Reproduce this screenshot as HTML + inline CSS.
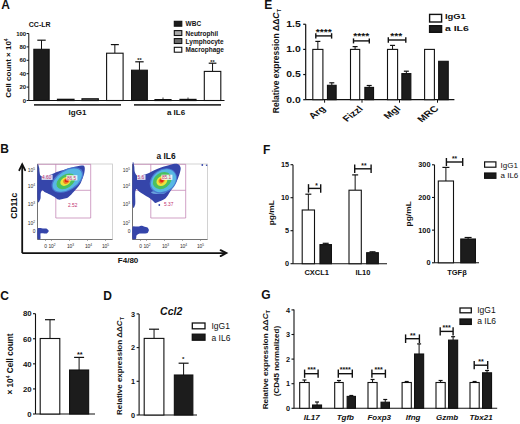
<!DOCTYPE html>
<html><head><meta charset="utf-8"><style>
html,body{margin:0;padding:0;background:#fff;}
svg{display:block;}
text{font-family:"Liberation Sans", sans-serif;}
</style></head><body>
<svg width="520" height="424" viewBox="0 0 520 424">
<defs><filter id="bl" x="-20%" y="-20%" width="140%" height="140%"><feGaussianBlur stdDeviation="0.7"/></filter></defs>
<rect width="520" height="424" fill="#fff"/>
<text x="1.3" y="9.2" font-size="12" font-weight="bold" text-anchor="start" fill="#111">A</text>
<text x="28.8" y="26.8" font-size="7" font-weight="bold" text-anchor="start" fill="#111">CC-LR</text>
<line x1="28.8" y1="33.5" x2="28.8" y2="100.5" stroke="#111" stroke-width="1"/>
<line x1="26.6" y1="100.5" x2="28.8" y2="100.5" stroke="#111" stroke-width="1"/>
<text x="26.2" y="102.6" font-size="6" font-weight="bold" text-anchor="end" fill="#111">0</text>
<line x1="26.6" y1="87.1" x2="28.8" y2="87.1" stroke="#111" stroke-width="1"/>
<text x="26.2" y="89.2" font-size="6" font-weight="bold" text-anchor="end" fill="#111">20</text>
<line x1="26.6" y1="73.7" x2="28.8" y2="73.7" stroke="#111" stroke-width="1"/>
<text x="26.2" y="75.8" font-size="6" font-weight="bold" text-anchor="end" fill="#111">40</text>
<line x1="26.6" y1="60.3" x2="28.8" y2="60.3" stroke="#111" stroke-width="1"/>
<text x="26.2" y="62.4" font-size="6" font-weight="bold" text-anchor="end" fill="#111">60</text>
<line x1="26.6" y1="46.9" x2="28.8" y2="46.9" stroke="#111" stroke-width="1"/>
<text x="26.2" y="49.0" font-size="6" font-weight="bold" text-anchor="end" fill="#111">80</text>
<line x1="26.6" y1="33.5" x2="28.8" y2="33.5" stroke="#111" stroke-width="1"/>
<text x="26.2" y="35.6" font-size="6" font-weight="bold" text-anchor="end" fill="#111">100</text>
<line x1="28.8" y1="100.5" x2="224.5" y2="100.5" stroke="#111" stroke-width="1"/>
<line x1="41.5" y1="40.2" x2="41.5" y2="49.3" stroke="#111" stroke-width="1"/>
<line x1="37.3" y1="40.2" x2="45.7" y2="40.2" stroke="#111" stroke-width="1.2"/>
<rect x="33.85" y="49.3" width="15.3" height="51.2" fill="#1c1c1c" stroke="#111" stroke-width="1.1"/>
<rect x="57.5" y="99.3" width="16.5" height="1.2" fill="#999" stroke="#111" stroke-width="1.2"/>
<rect x="82" y="98.8" width="16.3" height="1.7" fill="#666" stroke="#111" stroke-width="1.2"/>
<line x1="114.85" y1="44.6" x2="114.85" y2="53.2" stroke="#111" stroke-width="1"/>
<line x1="110.85" y1="44.6" x2="118.85" y2="44.6" stroke="#111" stroke-width="1.2"/>
<rect x="106.6" y="53.2" width="16.5" height="47.3" fill="#fff" stroke="#111" stroke-width="1.1"/>
<line x1="139.45" y1="61.8" x2="139.45" y2="70.2" stroke="#111" stroke-width="1"/>
<line x1="135.25" y1="61.8" x2="143.65" y2="61.8" stroke="#111" stroke-width="1.2"/>
<rect x="131.55" y="70.2" width="15.8" height="30.3" fill="#1c1c1c" stroke="#111" stroke-width="1.1"/>
<text x="139.4" y="62.2" font-size="5.5" font-weight="bold" text-anchor="middle" fill="#111">**</text>
<rect x="155" y="99.6" width="16" height="0.9" fill="#999" stroke="#111" stroke-width="1.2"/>
<line x1="163" y1="97.5" x2="163" y2="99.6" stroke="#111" stroke-width="0.8"/>
<rect x="180" y="99.4" width="16" height="1.1" fill="#666" stroke="#111" stroke-width="1.2"/>
<line x1="188" y1="97.5" x2="188" y2="99.4" stroke="#111" stroke-width="0.8"/>
<line x1="212.55" y1="63.2" x2="212.55" y2="71.4" stroke="#111" stroke-width="1"/>
<line x1="208.7" y1="63.2" x2="216.4" y2="63.2" stroke="#111" stroke-width="1.2"/>
<rect x="204.3" y="71.4" width="16.5" height="29.1" fill="#fff" stroke="#111" stroke-width="1.1"/>
<text x="212.4" y="64.0" font-size="5.5" font-weight="bold" text-anchor="middle" fill="#111">**</text>
<line x1="34" y1="104.8" x2="121" y2="104.8" stroke="#333" stroke-width="1.7"/>
<line x1="134" y1="104.8" x2="221" y2="104.8" stroke="#333" stroke-width="1.7"/>
<text x="77.5" y="114.5" font-size="8" font-weight="bold" text-anchor="middle" fill="#111">IgG1</text>
<text x="176" y="114.5" font-size="8" font-weight="bold" text-anchor="middle" fill="#111">a IL6</text>
<text x="10.6" y="68.1" font-size="8" font-weight="bold" text-anchor="middle" fill="#111" transform="rotate(-90 10.6 68.1)">Cell count &#215; 10<tspan font-size="5" dy="-3">4</tspan></text>
<rect x="174.3" y="21.3" width="7.5" height="4.9" fill="#1c1c1c" stroke="#111" stroke-width="1.1"/>
<text x="185.6" y="26.2" font-size="6.5" font-weight="bold" text-anchor="start" fill="#111">WBC</text>
<rect x="174.3" y="30.6" width="7.5" height="4.9" fill="#aaa" stroke="#111" stroke-width="1.1"/>
<text x="185.6" y="35.5" font-size="6.5" font-weight="bold" text-anchor="start" fill="#111">Neutrophil</text>
<rect x="174.3" y="38.6" width="7.5" height="4.9" fill="#6a6a6a" stroke="#111" stroke-width="1.1"/>
<text x="185.6" y="43.5" font-size="6.5" font-weight="bold" text-anchor="start" fill="#111">Lymphocyte</text>
<rect x="174.3" y="47.3" width="7.5" height="4.9" fill="#fff" stroke="#111" stroke-width="1.1"/>
<text x="185.6" y="52.2" font-size="6.5" font-weight="bold" text-anchor="start" fill="#111">Macrophage</text>
<text x="0.2" y="153.3" font-size="12" font-weight="bold" text-anchor="start" fill="#111">B</text>
<line x1="22.2" y1="253.1" x2="22.2" y2="164.5" stroke="#111" stroke-width="1.8"/>
<polyline points="19.3,170.2 22.2,164.3 25.1,170.2" fill="none" stroke="#111" stroke-width="1.8" stroke-linejoin="miter" stroke-linecap="round"/>
<line x1="22.2" y1="253.1" x2="225.5" y2="253.1" stroke="#111" stroke-width="1.8"/>
<polyline points="220.6,250.1 226.4,253.1 220.6,256.1" fill="none" stroke="#111" stroke-width="1.8" stroke-linejoin="miter" stroke-linecap="round"/>
<text x="17.3" y="205.7" font-size="8.5" font-weight="bold" text-anchor="middle" fill="#111" transform="rotate(-90 17.3 205.7)">CD11c</text>
<text x="128.1" y="263.2" font-size="8" font-weight="bold" text-anchor="middle" fill="#111">F4/80</text>
<text x="166.1" y="158.6" font-size="8.4" font-weight="bold" text-anchor="middle" fill="#111">a IL6</text>
<rect x="37.5" y="164" width="75.0" height="75.5" fill="none" stroke="#c8c8c8" stroke-width="0.8"/>
<line x1="37.5" y1="164" x2="37.5" y2="239.5" stroke="#666" stroke-width="0.9"/>
<line x1="37.5" y1="239.5" x2="112.5" y2="239.5" stroke="#666" stroke-width="0.9"/>
<path d="M37.5,164.3 H90.7 V190.3 H55.8 M55.8,164.3 V218 H90.7 V190.3 M37.5,190.3 H55.8" fill="none" stroke="#bd78ad" stroke-width="0.7"/>
<g filter="url(#bl)">
<path d="M37.60,166.50 C37.87,161.17 38.87,167.08 39.20,168.00 C39.53,168.92 39.33,170.70 39.60,172.00 C39.87,173.30 39.73,175.20 40.80,175.80 C41.87,176.40 44.32,175.80 46.00,175.60 C47.68,175.40 49.20,175.15 50.90,174.60 C52.60,174.05 54.43,172.98 56.20,172.30 C57.97,171.62 58.87,171.32 61.50,170.50 C64.13,169.68 68.65,168.23 72.00,167.40 C75.35,166.57 79.50,165.57 81.60,165.50 C83.70,165.43 84.15,165.75 84.60,167.00 C85.05,168.25 84.72,170.92 84.30,173.00 C83.88,175.08 82.85,177.57 82.10,179.50 C81.35,181.43 81.15,182.60 79.80,184.60 C78.45,186.60 75.92,189.40 74.00,191.50 C72.08,193.60 70.02,195.98 68.30,197.20 C66.58,198.42 65.33,198.40 63.70,198.80 C62.07,199.20 60.03,199.90 58.50,199.60 C56.97,199.30 55.92,197.85 54.50,197.00 C53.08,196.15 51.58,195.28 50.00,194.50 C48.42,193.72 46.27,193.02 45.00,192.30 C43.73,191.58 43.10,190.08 42.40,190.20 C41.70,190.32 41.13,191.53 40.80,193.00 C40.47,194.47 40.93,197.83 40.40,199.00 C39.87,200.17 38.07,205.42 37.60,200.00 C37.13,194.58 37.33,171.83 37.60,166.50 Z" fill="#3444aa"/>
<ellipse cx="67.4" cy="180" rx="17.6" ry="10.4" transform="rotate(-32 67.4 180)" fill="#4a78d0"/>
<ellipse cx="67.3" cy="180.2" rx="16.2" ry="9.2" transform="rotate(-32 67.3 180.2)" fill="#58b8e4"/>
<ellipse cx="65.9" cy="181.3" rx="10.4" ry="6.6" transform="rotate(-32 65.9 181.3)" fill="#4cc060"/>
<ellipse cx="65.5" cy="181.4" rx="5.6" ry="4.0" transform="rotate(-32 65.5 181.4)" fill="#ece43c"/>
<ellipse cx="66.4" cy="181" rx="3.3" ry="2.6" transform="rotate(-32 66.4 181)" fill="#f08024"/>
<ellipse cx="66.6" cy="180.7" rx="1.9" ry="1.6" transform="rotate(0 66.6 180.7)" fill="#e02818"/>
<path d="M37.70,228.50 C38.28,227.48 42.59,228.58 43.50,228.60 C44.41,228.62 46.27,228.46 46.80,228.70 C47.33,228.94 48.80,230.53 48.80,231.00 C48.80,231.47 47.43,233.18 46.80,233.40 C46.17,233.62 43.13,233.18 42.50,233.20 C41.87,233.22 40.70,233.04 40.50,233.60 C40.30,234.16 40.78,238.28 40.50,238.80 C40.22,239.32 37.98,239.83 37.70,238.80 C37.42,237.77 37.12,229.52 37.70,228.50 Z" fill="#3444aa"/>
</g>
<rect x="41.6" y="174.7" width="11.0" height="5.2" fill="#fff" opacity="0.85"/>
<text x="42.1" y="179" font-size="4.8" font-weight="normal" text-anchor="start" fill="#c03070">4.60</text>
<rect x="66.4" y="175.2" width="11.0" height="5.2" fill="#fff" opacity="0.85"/>
<text x="66.9" y="179.5" font-size="4.8" font-weight="normal" text-anchor="start" fill="#c03070">86.5</text>
<rect x="67.5" y="202.4" width="11.0" height="5.2" fill="#fff" opacity="0.85"/>
<text x="68.0" y="206.7" font-size="4.8" font-weight="normal" text-anchor="start" fill="#c03070">2.52</text>
<text x="35.0" y="171.5" font-size="4.9" font-weight="normal" text-anchor="end" fill="#2a2a2a">10<tspan font-size="3.2" dy="-2">5</tspan></text>
<text x="35.0" y="187.5" font-size="4.9" font-weight="normal" text-anchor="end" fill="#2a2a2a">10<tspan font-size="3.2" dy="-2">4</tspan></text>
<text x="35.0" y="205.5" font-size="4.9" font-weight="normal" text-anchor="end" fill="#2a2a2a">10<tspan font-size="3.2" dy="-2">3</tspan></text>
<text x="35.0" y="224.5" font-size="4.9" font-weight="normal" text-anchor="end" fill="#2a2a2a">10<tspan font-size="3.2" dy="-2">2</tspan></text>
<text x="35.5" y="232.5" font-size="4.9" font-weight="normal" text-anchor="end" fill="#2a2a2a">0</text>
<text x="45.5" y="248" font-size="4.9" font-weight="normal" text-anchor="middle" fill="#2a2a2a">0</text>
<text x="52.0" y="248" font-size="4.9" font-weight="normal" text-anchor="middle" fill="#2a2a2a">10<tspan font-size="3.2" dy="-2">2</tspan></text>
<text x="70.5" y="248" font-size="4.9" font-weight="normal" text-anchor="middle" fill="#2a2a2a">10<tspan font-size="3.2" dy="-2">3</tspan></text>
<text x="88.5" y="248" font-size="4.9" font-weight="normal" text-anchor="middle" fill="#2a2a2a">10<tspan font-size="3.2" dy="-2">4</tspan></text>
<text x="105.5" y="248" font-size="4.9" font-weight="normal" text-anchor="middle" fill="#2a2a2a">10<tspan font-size="3.2" dy="-2">5</tspan></text>
<line x1="45.5" y1="239.5" x2="45.5" y2="241.0" stroke="#777" stroke-width="0.6"/>
<line x1="51.5" y1="239.5" x2="51.5" y2="241.0" stroke="#777" stroke-width="0.6"/>
<line x1="69.5" y1="239.5" x2="69.5" y2="241.0" stroke="#777" stroke-width="0.6"/>
<line x1="87.5" y1="239.5" x2="87.5" y2="241.0" stroke="#777" stroke-width="0.6"/>
<line x1="105.5" y1="239.5" x2="105.5" y2="241.0" stroke="#777" stroke-width="0.6"/>
<rect x="132.5" y="164" width="75.0" height="75.5" fill="none" stroke="#c8c8c8" stroke-width="0.8"/>
<line x1="132.5" y1="164" x2="132.5" y2="239.5" stroke="#666" stroke-width="0.9"/>
<line x1="132.5" y1="239.5" x2="207.5" y2="239.5" stroke="#666" stroke-width="0.9"/>
<path d="M132.5,164.3 H185.7 V190.3 H150.8 M150.8,164.3 V218 H185.7 V190.3 M132.5,190.3 H150.8" fill="none" stroke="#bd78ad" stroke-width="0.7"/>
<g filter="url(#bl)">
<path d="M132.60,164.50 C132.87,158.07 133.83,164.75 134.20,166.00 C134.57,167.25 134.25,170.33 134.80,172.00 C135.35,173.67 136.47,175.42 137.50,176.00 C138.53,176.58 139.80,175.73 141.00,175.50 C142.20,175.27 143.20,175.12 144.70,174.60 C146.20,174.08 147.73,173.42 150.00,172.40 C152.27,171.38 155.03,169.75 158.30,168.50 C161.57,167.25 166.40,165.65 169.60,164.90 C172.80,164.15 175.67,163.57 177.50,164.00 C179.33,164.43 180.22,166.00 180.60,167.50 C180.98,169.00 180.35,170.92 179.80,173.00 C179.25,175.08 178.13,178.07 177.30,180.00 C176.47,181.93 175.98,182.68 174.80,184.60 C173.62,186.52 171.73,189.22 170.20,191.50 C168.67,193.78 167.33,196.67 165.60,198.30 C163.87,199.93 161.53,200.53 159.80,201.30 C158.07,202.07 156.35,202.98 155.20,202.90 C154.05,202.82 154.05,201.73 152.90,200.80 C151.75,199.87 149.83,198.37 148.30,197.30 C146.77,196.23 145.23,195.37 143.70,194.40 C142.17,193.43 140.30,192.40 139.10,191.50 C137.90,190.60 137.15,188.75 136.50,189.00 C135.85,189.25 135.42,190.45 135.20,193.00 C134.98,195.55 135.63,202.37 135.20,204.30 C134.77,206.23 133.03,211.23 132.60,204.60 C132.17,197.97 132.33,170.93 132.60,164.50 Z" fill="#3444aa"/>
<ellipse cx="158.5" cy="192.5" rx="7.5" ry="1.6" transform="rotate(0 158.5 192.5)" fill="#6aa0dc"/>
<ellipse cx="163.4" cy="181" rx="14.6" ry="11.6" transform="rotate(-35 163.4 181)" fill="#4a78d0"/>
<ellipse cx="163.5" cy="180.8" rx="13.4" ry="10.4" transform="rotate(-35 163.5 180.8)" fill="#58b8e4"/>
<ellipse cx="162.2" cy="180.6" rx="10" ry="7.8" transform="rotate(-35 162.2 180.6)" fill="#4cc060"/>
<ellipse cx="161.9" cy="181" rx="5.8" ry="4.7" transform="rotate(-35 161.9 181)" fill="#ece43c"/>
<ellipse cx="161.6" cy="180.7" rx="3.2" ry="2.6" transform="rotate(-35 161.6 180.7)" fill="#f08024"/>
<ellipse cx="161.7" cy="180.6" rx="1.8" ry="1.6" transform="rotate(0 161.7 180.6)" fill="#e02818"/>
<path d="M132.50,227.00 C132.85,225.78 135.35,226.66 136.00,226.60 C136.65,226.54 138.45,226.48 139.00,226.40 C139.55,226.32 141.00,225.79 141.50,225.80 C142.00,225.81 143.40,226.33 144.00,226.50 C144.60,226.67 147.01,227.15 147.50,227.50 C147.99,227.85 148.90,229.45 148.90,230.00 C148.90,230.55 148.09,232.64 147.50,233.00 C146.91,233.36 143.85,233.52 143.00,233.60 C142.15,233.68 139.65,233.61 139.00,233.80 C138.35,233.99 136.80,235.00 136.50,235.50 C136.20,236.00 136.40,238.47 136.00,238.80 C135.60,239.13 132.85,239.98 132.50,238.80 C132.15,237.62 132.15,228.22 132.50,227.00 Z" fill="#3444aa"/>
</g>
<rect x="137.0" y="174.7" width="8.5" height="5.2" fill="#fff" opacity="0.85"/>
<text x="137.5" y="179" font-size="4.8" font-weight="normal" text-anchor="start" fill="#c03070">5.6</text>
<rect x="161.4" y="174.7" width="11.0" height="5.2" fill="#fff" opacity="0.85"/>
<text x="161.9" y="179" font-size="4.8" font-weight="normal" text-anchor="start" fill="#c03070">85.1</text>
<rect x="163.5" y="202.0" width="11.0" height="5.2" fill="#fff" opacity="0.85"/>
<text x="164.0" y="206.3" font-size="4.8" font-weight="normal" text-anchor="start" fill="#c03070">5.37</text>
<circle cx="159.3" cy="205" r="0.9" fill="#3444aa"/>
<circle cx="202.3" cy="165" r="0.9" fill="#3444aa"/>
<circle cx="206.6" cy="165.2" r="0.8" fill="#3444aa"/>
<text x="130.0" y="171.5" font-size="4.9" font-weight="normal" text-anchor="end" fill="#2a2a2a">10<tspan font-size="3.2" dy="-2">5</tspan></text>
<text x="130.0" y="187.5" font-size="4.9" font-weight="normal" text-anchor="end" fill="#2a2a2a">10<tspan font-size="3.2" dy="-2">4</tspan></text>
<text x="130.0" y="205.5" font-size="4.9" font-weight="normal" text-anchor="end" fill="#2a2a2a">10<tspan font-size="3.2" dy="-2">3</tspan></text>
<text x="130.0" y="224.5" font-size="4.9" font-weight="normal" text-anchor="end" fill="#2a2a2a">10<tspan font-size="3.2" dy="-2">2</tspan></text>
<text x="130.5" y="232.5" font-size="4.9" font-weight="normal" text-anchor="end" fill="#2a2a2a">0</text>
<text x="140.5" y="248" font-size="4.9" font-weight="normal" text-anchor="middle" fill="#2a2a2a">0</text>
<text x="147.0" y="248" font-size="4.9" font-weight="normal" text-anchor="middle" fill="#2a2a2a">10<tspan font-size="3.2" dy="-2">2</tspan></text>
<text x="165.5" y="248" font-size="4.9" font-weight="normal" text-anchor="middle" fill="#2a2a2a">10<tspan font-size="3.2" dy="-2">3</tspan></text>
<text x="183.5" y="248" font-size="4.9" font-weight="normal" text-anchor="middle" fill="#2a2a2a">10<tspan font-size="3.2" dy="-2">4</tspan></text>
<text x="200.5" y="248" font-size="4.9" font-weight="normal" text-anchor="middle" fill="#2a2a2a">10<tspan font-size="3.2" dy="-2">5</tspan></text>
<line x1="140.5" y1="239.5" x2="140.5" y2="241.0" stroke="#777" stroke-width="0.6"/>
<line x1="146.5" y1="239.5" x2="146.5" y2="241.0" stroke="#777" stroke-width="0.6"/>
<line x1="164.5" y1="239.5" x2="164.5" y2="241.0" stroke="#777" stroke-width="0.6"/>
<line x1="182.5" y1="239.5" x2="182.5" y2="241.0" stroke="#777" stroke-width="0.6"/>
<line x1="200.5" y1="239.5" x2="200.5" y2="241.0" stroke="#777" stroke-width="0.6"/>
<text x="0.3" y="300.2" font-size="12" font-weight="bold" text-anchor="start" fill="#111">C</text>
<line x1="35.5" y1="313.7" x2="35.5" y2="414" stroke="#111" stroke-width="1.1"/>
<line x1="33.0" y1="414.0" x2="35.5" y2="414.0" stroke="#111" stroke-width="1.1"/>
<text x="31.7" y="416.8" font-size="7.8" font-weight="bold" text-anchor="end" fill="#111">0</text>
<line x1="33.0" y1="388.92" x2="35.5" y2="388.92" stroke="#111" stroke-width="1.1"/>
<text x="31.7" y="391.72" font-size="7.8" font-weight="bold" text-anchor="end" fill="#111">20</text>
<line x1="33.0" y1="363.84" x2="35.5" y2="363.84" stroke="#111" stroke-width="1.1"/>
<text x="31.7" y="366.64" font-size="7.8" font-weight="bold" text-anchor="end" fill="#111">40</text>
<line x1="33.0" y1="338.76" x2="35.5" y2="338.76" stroke="#111" stroke-width="1.1"/>
<text x="31.7" y="341.56" font-size="7.8" font-weight="bold" text-anchor="end" fill="#111">60</text>
<line x1="33.0" y1="313.68" x2="35.5" y2="313.68" stroke="#111" stroke-width="1.1"/>
<text x="31.7" y="316.48" font-size="7.8" font-weight="bold" text-anchor="end" fill="#111">80</text>
<line x1="35.5" y1="414" x2="95" y2="414" stroke="#111" stroke-width="1.1"/>
<line x1="50.0" y1="319.7" x2="50.0" y2="338.5" stroke="#111" stroke-width="1"/>
<line x1="45.0" y1="319.7" x2="55.0" y2="319.7" stroke="#111" stroke-width="1.2"/>
<rect x="40.2" y="338.5" width="19.6" height="75.5" fill="#fff" stroke="#111" stroke-width="1.1"/>
<line x1="79.1" y1="357.4" x2="79.1" y2="370" stroke="#111" stroke-width="1"/>
<line x1="74.1" y1="357.4" x2="84.1" y2="357.4" stroke="#111" stroke-width="1.2"/>
<rect x="69.55" y="370" width="19.1" height="44" fill="#1c1c1c" stroke="#111" stroke-width="1.1"/>
<text x="79.8" y="357.4" font-size="7.3" font-weight="bold" text-anchor="middle" fill="#111">**</text>
<text x="12.6" y="364" font-size="8.25" font-weight="bold" text-anchor="middle" fill="#111" transform="rotate(-90 12.6 364)">&#215; 10<tspan font-size="5" dy="-3">4</tspan><tspan dy="3"> Cell count</tspan></text>
<text x="103.2" y="300" font-size="12" font-weight="bold" text-anchor="start" fill="#111">D</text>
<line x1="139.1" y1="314" x2="139.1" y2="415" stroke="#111" stroke-width="1.1"/>
<line x1="136.6" y1="415.0" x2="139.1" y2="415.0" stroke="#111" stroke-width="1.1"/>
<text x="135.1" y="417.6" font-size="7.3" font-weight="bold" text-anchor="end" fill="#111">0</text>
<line x1="136.6" y1="381.3" x2="139.1" y2="381.3" stroke="#111" stroke-width="1.1"/>
<text x="135.1" y="383.9" font-size="7.3" font-weight="bold" text-anchor="end" fill="#111">1</text>
<line x1="136.6" y1="347.6" x2="139.1" y2="347.6" stroke="#111" stroke-width="1.1"/>
<text x="135.1" y="350.2" font-size="7.3" font-weight="bold" text-anchor="end" fill="#111">2</text>
<line x1="136.6" y1="313.9" x2="139.1" y2="313.9" stroke="#111" stroke-width="1.1"/>
<text x="135.1" y="316.5" font-size="7.3" font-weight="bold" text-anchor="end" fill="#111">3</text>
<line x1="139.1" y1="415" x2="197" y2="415" stroke="#111" stroke-width="1.1"/>
<line x1="154.05" y1="329.2" x2="154.05" y2="338.4" stroke="#111" stroke-width="1"/>
<line x1="149.05" y1="329.2" x2="159.05" y2="329.2" stroke="#111" stroke-width="1.2"/>
<rect x="144.2" y="338.4" width="19.7" height="76.6" fill="#fff" stroke="#111" stroke-width="1.1"/>
<line x1="183.6" y1="363.2" x2="183.6" y2="375" stroke="#111" stroke-width="1"/>
<line x1="178.6" y1="363.2" x2="188.6" y2="363.2" stroke="#111" stroke-width="1.2"/>
<rect x="174.35" y="375" width="18.5" height="40" fill="#1c1c1c" stroke="#111" stroke-width="1.1"/>
<text x="183.1" y="361.0" font-size="6.2" font-weight="bold" text-anchor="middle" fill="#111">*</text>
<text x="171.2" y="314.8" font-size="10.5" font-weight="bold" text-anchor="middle" fill="#111" font-style="italic">Ccl2</text>
<rect x="192.3" y="323" width="12.7" height="5.8" fill="#fff" stroke="#111" stroke-width="1.3"/>
<rect x="192.3" y="334.2" width="12.7" height="6.0" fill="#1c1c1c" stroke="#111" stroke-width="1.3"/>
<text x="211.5" y="329.3" font-size="8.5" font-weight="normal" text-anchor="start" fill="#111">IgG1</text>
<text x="211.5" y="340.6" font-size="8.5" font-weight="normal" text-anchor="start" fill="#111">a IL6</text>
<text x="121.5" y="366" font-size="8" font-weight="bold" text-anchor="middle" fill="#111" transform="rotate(-90 121.5 366)">Relative expression &#916;&#916;<tspan font-style="italic">C</tspan><tspan font-size="5.5" dy="2">T</tspan></text>
<text x="264.2" y="8.6" font-size="12" font-weight="bold" text-anchor="start" fill="#111">E</text>
<line x1="305.7" y1="24.3" x2="305.7" y2="99.7" stroke="#111" stroke-width="1.2"/>
<line x1="303.2" y1="99.7" x2="305.7" y2="99.7" stroke="#111" stroke-width="1.2"/>
<text transform="translate(300.7 102.6) scale(1.27 1)" font-size="8.2" font-weight="bold" text-anchor="end" fill="#111">0.0</text>
<line x1="303.2" y1="74.55" x2="305.7" y2="74.55" stroke="#111" stroke-width="1.2"/>
<text transform="translate(300.7 77.45) scale(1.27 1)" font-size="8.2" font-weight="bold" text-anchor="end" fill="#111">0.5</text>
<line x1="303.2" y1="49.4" x2="305.7" y2="49.4" stroke="#111" stroke-width="1.2"/>
<text transform="translate(300.7 52.3) scale(1.27 1)" font-size="8.2" font-weight="bold" text-anchor="end" fill="#111">1.0</text>
<line x1="303.2" y1="24.25" x2="305.7" y2="24.25" stroke="#111" stroke-width="1.2"/>
<text transform="translate(300.7 27.15) scale(1.27 1)" font-size="8.2" font-weight="bold" text-anchor="end" fill="#111">1.5</text>
<line x1="305.7" y1="99.7" x2="454.4" y2="99.7" stroke="#111" stroke-width="1.2"/>
<line x1="317.85" y1="41.4" x2="317.85" y2="49.4" stroke="#111" stroke-width="1"/>
<line x1="315.35" y1="41.4" x2="320.35" y2="41.4" stroke="#111" stroke-width="1.2"/>
<rect x="312.8" y="49.4" width="10.1" height="50.3" fill="#fff" stroke="#111" stroke-width="1.1"/>
<line x1="331.8" y1="82.8" x2="331.8" y2="85.3" stroke="#111" stroke-width="1"/>
<line x1="329.3" y1="82.8" x2="334.3" y2="82.8" stroke="#111" stroke-width="1.2"/>
<rect x="327.45" y="85.3" width="8.7" height="14.4" fill="#1c1c1c" stroke="#111" stroke-width="1.1"/>
<line x1="355.1" y1="46.6" x2="355.1" y2="49.4" stroke="#111" stroke-width="1"/>
<line x1="352.6" y1="46.6" x2="357.6" y2="46.6" stroke="#111" stroke-width="1.2"/>
<rect x="350.5" y="49.4" width="9.2" height="50.3" fill="#fff" stroke="#111" stroke-width="1.1"/>
<line x1="369.2" y1="85.5" x2="369.2" y2="87.4" stroke="#111" stroke-width="1"/>
<line x1="366.7" y1="85.5" x2="371.7" y2="85.5" stroke="#111" stroke-width="1.2"/>
<rect x="364.85" y="87.4" width="8.7" height="12.3" fill="#1c1c1c" stroke="#111" stroke-width="1.1"/>
<line x1="392.55" y1="45.4" x2="392.55" y2="49.4" stroke="#111" stroke-width="1"/>
<line x1="390.05" y1="45.4" x2="395.05" y2="45.4" stroke="#111" stroke-width="1.2"/>
<rect x="387.5" y="49.4" width="10.1" height="50.3" fill="#fff" stroke="#111" stroke-width="1.1"/>
<line x1="406.35" y1="71.2" x2="406.35" y2="73.6" stroke="#111" stroke-width="1"/>
<line x1="403.85" y1="71.2" x2="408.85" y2="71.2" stroke="#111" stroke-width="1.2"/>
<rect x="401.85" y="73.6" width="9" height="26.1" fill="#1c1c1c" stroke="#111" stroke-width="1.1"/>
<rect x="424.6" y="49.4" width="9.8" height="50.3" fill="#fff" stroke="#111" stroke-width="1.1"/>
<rect x="438.65" y="61.3" width="9.6" height="38.4" fill="#1c1c1c" stroke="#111" stroke-width="1.1"/>
<line x1="315.8" y1="35.9" x2="331.6" y2="35.9" stroke="#111" stroke-width="1.4"/>
<line x1="315.8" y1="33.2" x2="315.8" y2="38.6" stroke="#111" stroke-width="1.4"/>
<line x1="331.6" y1="33.2" x2="331.6" y2="38.6" stroke="#111" stroke-width="1.4"/>
<text transform="translate(323.7 35.3) scale(1.2 1)" font-size="8.6" font-weight="bold" text-anchor="middle" fill="#111">****</text>
<line x1="353.5" y1="40.9" x2="369.3" y2="40.9" stroke="#111" stroke-width="1.4"/>
<line x1="353.5" y1="38.4" x2="353.5" y2="43.4" stroke="#111" stroke-width="1.4"/>
<line x1="369.3" y1="38.4" x2="369.3" y2="43.4" stroke="#111" stroke-width="1.4"/>
<text transform="translate(361.3 38.5) scale(1.2 1)" font-size="8.6" font-weight="bold" text-anchor="middle" fill="#111">****</text>
<line x1="388.3" y1="40.0" x2="405.8" y2="40.0" stroke="#111" stroke-width="1.4"/>
<line x1="388.3" y1="37.3" x2="388.3" y2="42.7" stroke="#111" stroke-width="1.4"/>
<line x1="405.8" y1="37.3" x2="405.8" y2="42.7" stroke="#111" stroke-width="1.4"/>
<text transform="translate(396.2 38.9) scale(1.2 1)" font-size="8.6" font-weight="bold" text-anchor="middle" fill="#111">***</text>
<line x1="324.6" y1="99.7" x2="324.6" y2="102.7" stroke="#111" stroke-width="1"/>
<text transform="translate(326.3 109.3) scale(1.3 1) rotate(-45)" font-size="8.4" font-weight="bold" text-anchor="end" fill="#111">Arg</text>
<line x1="362" y1="99.7" x2="362" y2="102.7" stroke="#111" stroke-width="1"/>
<text transform="translate(363.7 109.3) scale(1.3 1) rotate(-45)" font-size="8.4" font-weight="bold" text-anchor="end" fill="#111">Fizzl</text>
<line x1="399.5" y1="99.7" x2="399.5" y2="102.7" stroke="#111" stroke-width="1"/>
<text transform="translate(401.2 109.3) scale(1.3 1) rotate(-45)" font-size="8.4" font-weight="bold" text-anchor="end" fill="#111">Mgl</text>
<line x1="437.5" y1="99.7" x2="437.5" y2="102.7" stroke="#111" stroke-width="1"/>
<text transform="translate(439.2 109.3) scale(1.3 1) rotate(-45)" font-size="8.4" font-weight="bold" text-anchor="end" fill="#111">MRC</text>
<rect x="429.6" y="14.4" width="12.0" height="7.6" fill="#fff" stroke="#111" stroke-width="1.4"/>
<rect x="429.6" y="25.7" width="12.0" height="6.6" fill="#1c1c1c" stroke="#111" stroke-width="1.4"/>
<text transform="translate(444.9 19.3) scale(1.24 1)" font-size="7.6" font-weight="bold" text-anchor="start" fill="#111">IgG1</text>
<text transform="translate(444.9 31.3) scale(1.38 1)" font-size="7.6" font-weight="bold" text-anchor="start" fill="#111">a IL6</text>
<text transform="translate(278.5 61) rotate(-90)" font-size="8.5" font-weight="bold" text-anchor="middle" fill="#111">Relative expression &#916;&#916;<tspan font-style="italic">C</tspan><tspan font-size="6" dy="2">T</tspan></text>
<text x="263" y="154.2" font-size="12" font-weight="bold" text-anchor="start" fill="#111">F</text>
<line x1="293" y1="164.8" x2="293" y2="263.7" stroke="#111" stroke-width="1.1"/>
<line x1="290.5" y1="263.7" x2="293" y2="263.7" stroke="#111" stroke-width="1.1"/>
<text x="289" y="266.3" font-size="7.3" font-weight="bold" text-anchor="end" fill="#111">0</text>
<line x1="290.5" y1="230.7" x2="293" y2="230.7" stroke="#111" stroke-width="1.1"/>
<text x="289" y="233.3" font-size="7.3" font-weight="bold" text-anchor="end" fill="#111">5</text>
<line x1="290.5" y1="197.7" x2="293" y2="197.7" stroke="#111" stroke-width="1.1"/>
<text x="289" y="200.3" font-size="7.3" font-weight="bold" text-anchor="end" fill="#111">10</text>
<line x1="290.5" y1="164.7" x2="293" y2="164.7" stroke="#111" stroke-width="1.1"/>
<text x="289" y="167.3" font-size="7.3" font-weight="bold" text-anchor="end" fill="#111">15</text>
<line x1="293" y1="263.7" x2="387" y2="263.7" stroke="#111" stroke-width="1.1"/>
<line x1="308.35" y1="194.2" x2="308.35" y2="210" stroke="#111" stroke-width="1"/>
<line x1="305.35" y1="194.2" x2="311.35" y2="194.2" stroke="#111" stroke-width="1.2"/>
<rect x="302.2" y="210" width="12.3" height="53.7" fill="#fff" stroke="#111" stroke-width="1.1"/>
<line x1="325.7" y1="243.3" x2="325.7" y2="244.6" stroke="#111" stroke-width="1"/>
<line x1="322.7" y1="243.3" x2="328.7" y2="243.3" stroke="#111" stroke-width="1.2"/>
<rect x="319.95" y="244.6" width="11.5" height="19.1" fill="#1c1c1c" stroke="#111" stroke-width="1.1"/>
<line x1="355.15" y1="174.9" x2="355.15" y2="190.2" stroke="#111" stroke-width="1"/>
<line x1="352.15" y1="174.9" x2="358.15" y2="174.9" stroke="#111" stroke-width="1.2"/>
<rect x="349.0" y="190.2" width="12.3" height="73.5" fill="#fff" stroke="#111" stroke-width="1.1"/>
<line x1="372.5" y1="251.8" x2="372.5" y2="252.7" stroke="#111" stroke-width="1"/>
<line x1="369.5" y1="251.8" x2="375.5" y2="251.8" stroke="#111" stroke-width="1.2"/>
<rect x="366.65" y="252.7" width="11.7" height="11.0" fill="#1c1c1c" stroke="#111" stroke-width="1.1"/>
<line x1="308.5" y1="188.4" x2="320.7" y2="188.4" stroke="#111" stroke-width="1.4"/>
<line x1="308.5" y1="184.15" x2="308.5" y2="192.65" stroke="#111" stroke-width="1.4"/>
<line x1="320.7" y1="184.15" x2="320.7" y2="192.65" stroke="#111" stroke-width="1.4"/>
<text transform="translate(316.4 188.2) scale(1.0 1)" font-size="6.5" font-weight="bold" text-anchor="middle" fill="#111">*</text>
<line x1="354.7" y1="168.8" x2="371.1" y2="168.8" stroke="#111" stroke-width="1.4"/>
<line x1="354.7" y1="164.55" x2="354.7" y2="173.05" stroke="#111" stroke-width="1.4"/>
<line x1="371.1" y1="164.55" x2="371.1" y2="173.05" stroke="#111" stroke-width="1.4"/>
<text transform="translate(363.9 168.4) scale(1.0 1)" font-size="6.5" font-weight="bold" text-anchor="middle" fill="#111">**</text>
<text x="316.7" y="275.3" font-size="7.5" font-weight="bold" text-anchor="middle" fill="#111">CXCL1</text>
<text x="362.9" y="275.3" font-size="7.5" font-weight="bold" text-anchor="middle" fill="#111">IL10</text>
<text transform="translate(273.6 212.7) scale(0.8 1) rotate(-90)" font-size="8.4" font-weight="bold" text-anchor="middle" fill="#111">pg/mL</text>
<line x1="434.5" y1="164.8" x2="434.5" y2="262.8" stroke="#111" stroke-width="1.1"/>
<line x1="432.0" y1="262.8" x2="434.5" y2="262.8" stroke="#111" stroke-width="1.1"/>
<text x="430.5" y="265.4" font-size="7.3" font-weight="bold" text-anchor="end" fill="#111">0</text>
<line x1="432.0" y1="230.13" x2="434.5" y2="230.13" stroke="#111" stroke-width="1.1"/>
<text x="430.5" y="232.73" font-size="7.3" font-weight="bold" text-anchor="end" fill="#111">100</text>
<line x1="432.0" y1="197.46" x2="434.5" y2="197.46" stroke="#111" stroke-width="1.1"/>
<text x="430.5" y="200.06" font-size="7.3" font-weight="bold" text-anchor="end" fill="#111">200</text>
<line x1="432.0" y1="164.79" x2="434.5" y2="164.79" stroke="#111" stroke-width="1.1"/>
<text x="430.5" y="167.39" font-size="7.3" font-weight="bold" text-anchor="end" fill="#111">300</text>
<line x1="434.5" y1="262.8" x2="479" y2="262.8" stroke="#111" stroke-width="1.1"/>
<line x1="445.9" y1="167.4" x2="445.9" y2="181" stroke="#111" stroke-width="1"/>
<line x1="442.4" y1="167.4" x2="449.4" y2="167.4" stroke="#111" stroke-width="1.2"/>
<rect x="438.3" y="181" width="15.2" height="81.8" fill="#fff" stroke="#111" stroke-width="1.1"/>
<line x1="468.1" y1="237.5" x2="468.1" y2="239" stroke="#111" stroke-width="1"/>
<line x1="464.6" y1="237.5" x2="471.6" y2="237.5" stroke="#111" stroke-width="1.2"/>
<rect x="460.75" y="239" width="14.7" height="23.8" fill="#1c1c1c" stroke="#111" stroke-width="1.1"/>
<line x1="446.4" y1="162" x2="462.7" y2="162" stroke="#111" stroke-width="1.4"/>
<line x1="446.4" y1="158.0" x2="446.4" y2="166.0" stroke="#111" stroke-width="1.4"/>
<line x1="462.7" y1="158.0" x2="462.7" y2="166.0" stroke="#111" stroke-width="1.4"/>
<text transform="translate(454.6 161.2) scale(1.0 1)" font-size="6.5" font-weight="bold" text-anchor="middle" fill="#111">**</text>
<text x="457" y="275.3" font-size="7.5" font-weight="bold" text-anchor="middle" fill="#111">TGF&#946;</text>
<text transform="translate(410.9 213.8) scale(0.8 1) rotate(-90)" font-size="8.4" font-weight="bold" text-anchor="middle" fill="#111">pg/mL</text>
<rect x="484.6" y="161.9" width="11.3" height="5.3" fill="#fff" stroke="#111" stroke-width="1.2"/>
<rect x="484.6" y="173.0" width="11.3" height="5.3" fill="#1c1c1c" stroke="#111" stroke-width="1.2"/>
<text x="500.5" y="167.5" font-size="8" font-weight="normal" text-anchor="start" fill="#111">IgG1</text>
<text x="500.5" y="178.3" font-size="8" font-weight="normal" text-anchor="start" fill="#111">a IL6</text>
<text x="261.2" y="299" font-size="12" font-weight="bold" text-anchor="start" fill="#111">G</text>
<line x1="294" y1="309.4" x2="294" y2="408.3" stroke="#111" stroke-width="1.1"/>
<line x1="291.5" y1="408.3" x2="294" y2="408.3" stroke="#111" stroke-width="1.1"/>
<text x="290" y="410.9" font-size="7.3" font-weight="bold" text-anchor="end" fill="#111">0</text>
<line x1="291.5" y1="383.7" x2="294" y2="383.7" stroke="#111" stroke-width="1.1"/>
<text x="290" y="386.3" font-size="7.3" font-weight="bold" text-anchor="end" fill="#111">1</text>
<line x1="291.5" y1="359.1" x2="294" y2="359.1" stroke="#111" stroke-width="1.1"/>
<text x="290" y="361.7" font-size="7.3" font-weight="bold" text-anchor="end" fill="#111">2</text>
<line x1="291.5" y1="334.5" x2="294" y2="334.5" stroke="#111" stroke-width="1.1"/>
<text x="290" y="337.1" font-size="7.3" font-weight="bold" text-anchor="end" fill="#111">3</text>
<line x1="291.5" y1="309.9" x2="294" y2="309.9" stroke="#111" stroke-width="1.1"/>
<text x="290" y="312.5" font-size="7.3" font-weight="bold" text-anchor="end" fill="#111">4</text>
<line x1="294" y1="408.3" x2="497.2" y2="408.3" stroke="#111" stroke-width="1.1"/>
<line x1="304.45" y1="380" x2="304.45" y2="382.5" stroke="#111" stroke-width="1"/>
<line x1="302.45" y1="380" x2="306.45" y2="380" stroke="#111" stroke-width="1.2"/>
<rect x="299.7" y="382.5" width="9.5" height="25.8" fill="#fff" stroke="#111" stroke-width="1.1"/>
<line x1="317.05" y1="402" x2="317.05" y2="405" stroke="#111" stroke-width="1"/>
<line x1="315.05" y1="402" x2="319.05" y2="402" stroke="#111" stroke-width="1.2"/>
<rect x="312.55" y="405" width="9.0" height="3.3" fill="#1c1c1c" stroke="#111" stroke-width="1.1"/>
<text x="311.7" y="419.6" font-size="8" font-weight="bold" text-anchor="middle" fill="#111" font-style="italic">IL17</text>
<line x1="338.95" y1="380.5" x2="338.95" y2="382.5" stroke="#111" stroke-width="1"/>
<line x1="336.95" y1="380.5" x2="340.95" y2="380.5" stroke="#111" stroke-width="1.2"/>
<rect x="334.7" y="382.5" width="8.5" height="25.8" fill="#fff" stroke="#111" stroke-width="1.1"/>
<line x1="351.3" y1="395.5" x2="351.3" y2="396.4" stroke="#111" stroke-width="1"/>
<line x1="349.3" y1="395.5" x2="353.3" y2="395.5" stroke="#111" stroke-width="1.2"/>
<rect x="347.15" y="396.4" width="8.3" height="11.9" fill="#1c1c1c" stroke="#111" stroke-width="1.1"/>
<text x="345.35" y="419.6" font-size="8" font-weight="bold" text-anchor="middle" fill="#111" font-style="italic">Tgfb</text>
<line x1="372.55" y1="379.5" x2="372.55" y2="382.5" stroke="#111" stroke-width="1"/>
<line x1="370.55" y1="379.5" x2="374.55" y2="379.5" stroke="#111" stroke-width="1.2"/>
<rect x="368" y="382.5" width="9.1" height="25.8" fill="#fff" stroke="#111" stroke-width="1.1"/>
<line x1="385.25" y1="399.5" x2="385.25" y2="402.2" stroke="#111" stroke-width="1"/>
<line x1="383.25" y1="399.5" x2="387.25" y2="399.5" stroke="#111" stroke-width="1.2"/>
<rect x="381.05" y="402.2" width="8.4" height="6.1" fill="#1c1c1c" stroke="#111" stroke-width="1.1"/>
<text x="379.25" y="419.6" font-size="8" font-weight="bold" text-anchor="middle" fill="#111" font-style="italic">Foxp3</text>
<line x1="406.7" y1="381.5" x2="406.7" y2="382.5" stroke="#111" stroke-width="1"/>
<line x1="404.7" y1="381.5" x2="408.7" y2="381.5" stroke="#111" stroke-width="1.2"/>
<rect x="402.1" y="382.5" width="9.2" height="25.8" fill="#fff" stroke="#111" stroke-width="1.1"/>
<line x1="419.1" y1="343.9" x2="419.1" y2="354" stroke="#111" stroke-width="1"/>
<line x1="417.1" y1="343.9" x2="421.1" y2="343.9" stroke="#111" stroke-width="1.2"/>
<rect x="414.55" y="354" width="9.1" height="54.3" fill="#1c1c1c" stroke="#111" stroke-width="1.1"/>
<text x="413.15" y="419.6" font-size="8" font-weight="bold" text-anchor="middle" fill="#111" font-style="italic">Ifng</text>
<line x1="440.6" y1="380.5" x2="440.6" y2="382.5" stroke="#111" stroke-width="1"/>
<line x1="438.6" y1="380.5" x2="442.6" y2="380.5" stroke="#111" stroke-width="1.2"/>
<rect x="436" y="382.5" width="9.2" height="25.8" fill="#fff" stroke="#111" stroke-width="1.1"/>
<line x1="453.1" y1="336.7" x2="453.1" y2="340.1" stroke="#111" stroke-width="1"/>
<line x1="451.1" y1="336.7" x2="455.1" y2="336.7" stroke="#111" stroke-width="1.2"/>
<rect x="448.55" y="340.1" width="9.1" height="68.2" fill="#1c1c1c" stroke="#111" stroke-width="1.1"/>
<text x="447.1" y="419.6" font-size="8" font-weight="bold" text-anchor="middle" fill="#111" font-style="italic">Gzmb</text>
<line x1="474.6" y1="381.5" x2="474.6" y2="382.5" stroke="#111" stroke-width="1"/>
<line x1="472.6" y1="381.5" x2="476.6" y2="381.5" stroke="#111" stroke-width="1.2"/>
<rect x="470" y="382.5" width="9.2" height="25.8" fill="#fff" stroke="#111" stroke-width="1.1"/>
<line x1="487.05" y1="370.5" x2="487.05" y2="372.8" stroke="#111" stroke-width="1"/>
<line x1="485.05" y1="370.5" x2="489.05" y2="370.5" stroke="#111" stroke-width="1.2"/>
<rect x="482.55" y="372.8" width="9.0" height="35.5" fill="#1c1c1c" stroke="#111" stroke-width="1.1"/>
<text x="481.05" y="419.6" font-size="8" font-weight="bold" text-anchor="middle" fill="#111" font-style="italic">Tbx21</text>
<line x1="304.6" y1="373.7" x2="318.1" y2="373.7" stroke="#111" stroke-width="1.4"/>
<line x1="304.6" y1="369.55" x2="304.6" y2="377.85" stroke="#111" stroke-width="1.4"/>
<line x1="318.1" y1="369.55" x2="318.1" y2="377.85" stroke="#111" stroke-width="1.4"/>
<text transform="translate(311.6 372.2) scale(1.0 1)" font-size="7" font-weight="bold" text-anchor="middle" fill="#111">***</text>
<line x1="338.3" y1="373.7" x2="352.3" y2="373.7" stroke="#111" stroke-width="1.4"/>
<line x1="338.3" y1="369.55" x2="338.3" y2="377.85" stroke="#111" stroke-width="1.4"/>
<line x1="352.3" y1="369.55" x2="352.3" y2="377.85" stroke="#111" stroke-width="1.4"/>
<text transform="translate(345.3 372.2) scale(1.0 1)" font-size="7" font-weight="bold" text-anchor="middle" fill="#111">****</text>
<line x1="371.9" y1="373.7" x2="385.4" y2="373.7" stroke="#111" stroke-width="1.4"/>
<line x1="371.9" y1="369.55" x2="371.9" y2="377.85" stroke="#111" stroke-width="1.4"/>
<line x1="385.4" y1="369.55" x2="385.4" y2="377.85" stroke="#111" stroke-width="1.4"/>
<text transform="translate(378.6 372.2) scale(1.0 1)" font-size="7" font-weight="bold" text-anchor="middle" fill="#111">***</text>
<line x1="405.6" y1="338.7" x2="419.4" y2="338.7" stroke="#111" stroke-width="1.4"/>
<line x1="405.6" y1="334.4" x2="405.6" y2="343.0" stroke="#111" stroke-width="1.4"/>
<line x1="419.4" y1="334.4" x2="419.4" y2="343.0" stroke="#111" stroke-width="1.4"/>
<text transform="translate(412.7 338.4) scale(1.0 1)" font-size="7" font-weight="bold" text-anchor="middle" fill="#111">**</text>
<line x1="440.2" y1="331.4" x2="453.1" y2="331.4" stroke="#111" stroke-width="1.4"/>
<line x1="440.2" y1="327.3" x2="440.2" y2="335.5" stroke="#111" stroke-width="1.4"/>
<line x1="453.1" y1="327.3" x2="453.1" y2="335.5" stroke="#111" stroke-width="1.4"/>
<text transform="translate(446.6 330) scale(1.0 1)" font-size="7" font-weight="bold" text-anchor="middle" fill="#111">***</text>
<line x1="474.2" y1="365.2" x2="487.7" y2="365.2" stroke="#111" stroke-width="1.4"/>
<line x1="474.2" y1="361.1" x2="474.2" y2="369.3" stroke="#111" stroke-width="1.4"/>
<line x1="487.7" y1="361.1" x2="487.7" y2="369.3" stroke="#111" stroke-width="1.4"/>
<text transform="translate(480.9 364) scale(1.0 1)" font-size="7" font-weight="bold" text-anchor="middle" fill="#111">**</text>
<rect x="460" y="308" width="11.3" height="4.8" fill="#fff" stroke="#111" stroke-width="1.3"/>
<rect x="460" y="319" width="11.3" height="5.4" fill="#1c1c1c" stroke="#111" stroke-width="1.3"/>
<text x="477.2" y="312.7" font-size="8.5" font-weight="normal" text-anchor="start" fill="#111">IgG1</text>
<text x="477.2" y="324.4" font-size="8.5" font-weight="normal" text-anchor="start" fill="#111">a IL6</text>
<text x="268.2" y="359.6" font-size="8.1" font-weight="bold" text-anchor="middle" fill="#111" transform="rotate(-90 268.2 359.6)">Relative expression &#916;&#916;<tspan font-style="italic">C</tspan><tspan font-size="5.8" dy="2">T</tspan></text>
<text x="278.6" y="361" font-size="8" font-weight="bold" text-anchor="middle" fill="#111" transform="rotate(-90 278.6 361)">(CD45 normalized)</text>
</svg>
</body></html>
